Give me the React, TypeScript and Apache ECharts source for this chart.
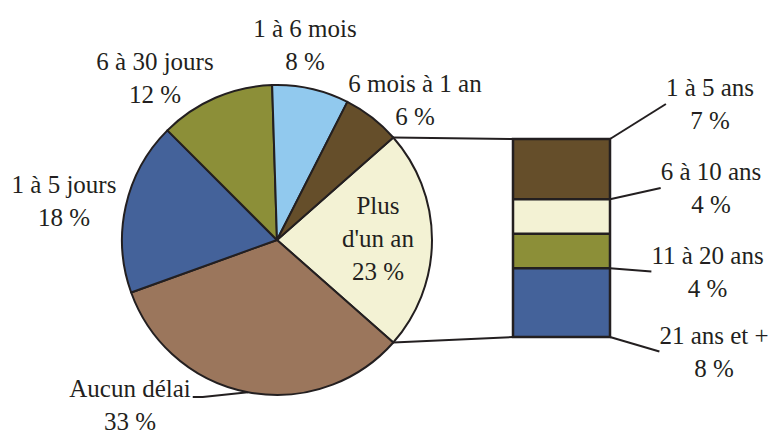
import React, { useEffect, useRef } from 'react';
import * as echarts from 'echarts';

// Main pie (clockwise from the "Plus d'un an" slice)
const pieNames = ["Plus d'un an", 'Aucun délai', '1 à 5 jours', '6 à 30 jours', '1 à 6 mois', '6 mois à 1 an'];
const pieValues = [23, 33, 18, 12, 8, 6];
const pieColors = ['#F3F2D4', '#9B765C', '#44629A', '#8C8F38', '#91C9EE', '#654E2A'];

// Breakdown of "Plus d'un an" (bottom to top)
const barNames = ['21 ans et +', '11 à 20 ans', '6 à 10 ans', '1 à 5 ans'];
const barValues = [8, 4, 4, 7];
const barColors = ['#44629A', '#8C8F38', '#F3F2D4', '#654E2A'];

// Layout (label anchors, centre of each label block)
const pieLabelPos: number[][] = [[378, 238], [130, 405], [64, 201], [155, 77.5], [305, 45], [415, 100]];
const barLabelPos: number[][] = [[714, 351.5], [707.5, 271.5], [711, 188], [710, 104]];

const INK = '#231F20';
const FONT = 'Liberation Serif';
const PIE_CX = 277;
const PIE_CY = 240;
const PIE_R = 155;
const BOX = { left: 513, top: 139, width: 97, height: 198 };

const txt = { fontFamily: FONT, fontSize: 25, lineHeight: 33, color: INK };

const lines = (arr: string[]) => arr.map((s) => `{t|${s}}`).join('\n');

export default function App() {
  const ref = useRef<HTMLDivElement>(null);

  useEffect(() => {
    document.body.style.margin = '0';
    if (!ref.current) return;
    const chart = echarts.init(ref.current, null, { renderer: 'svg' });

    const pieTotal = pieValues.reduce((a, b) => a + b, 0);
    const half = (pieValues[0] / pieTotal) * 180; // degrees
    const hr = (half * Math.PI) / 180;
    const px = PIE_CX + PIE_R * Math.cos(hr);
    const pyTop = PIE_CY - PIE_R * Math.sin(hr);
    const pyBot = PIE_CY + PIE_R * Math.sin(hr);
    const barTotal = barValues.reduce((a, b) => a + b, 0);

    const pieData = pieNames.map((n, i) => ({
      name: n,
      value: pieValues[i],
      itemStyle: { color: pieColors[i] },
      label: {
        show: true,
        ...txt,
        align: 'center',
        formatter: lines(
          (n === "Plus d'un an" ? ['Plus', "d'un an"] : [n]).concat([`${pieValues[i]} %`])
        ),
        rich: { t: { ...txt } },
      },
      labelLine: { show: n === 'Aucun délai' },
    }));

    const barSeries = barNames.map((n, i) => ({
      type: 'bar',
      name: n,
      stack: 'total',
      barWidth: '100%',
      data: [
        {
          value: barValues[i],
          label: {
            show: true,
            position: 'right',
            ...txt,
            align: 'center',
            formatter: lines([n, `${barValues[i]} %`]),
            rich: { t: { ...txt } },
          },
        },
      ],
      itemStyle: { color: barColors[i], borderWidth: 0 },
      labelLine: { show: true, lineStyle: { color: INK, width: 2 } },
      labelLayout: (params: any) => {
        const [lx, ly] = barLabelPos[i];
        const w = params.labelRect.width;
        const r = params.rect;
        return {
          x: lx,
          y: ly,
          align: 'center',
          verticalAlign: 'middle',
          labelLinePoints: [
            [r.x + r.width, r.y + r.height / 2],
            [lx - w / 2 - 5, ly],
          ],
        };
      },
      emphasis: { disabled: true },
    }));

    // outline of the breakdown box and separators between its segments
    const boxGraphics: any[] = [
      {
        type: 'rect',
        shape: { x: BOX.left, y: BOX.top, width: BOX.width, height: BOX.height },
        style: { fill: 'none', stroke: INK, lineWidth: 2.5 },
        silent: true,
        z: 100,
      },
    ];
    let cum = 0;
    for (let i = 0; i < barValues.length - 1; i++) {
      cum += barValues[i];
      const y = BOX.top + BOX.height * (1 - cum / barTotal);
      boxGraphics.push({
        type: 'line',
        shape: { x1: BOX.left, y1: y, x2: BOX.left + BOX.width, y2: y },
        style: { stroke: INK, lineWidth: 2.5 },
        silent: true,
        z: 100,
      });
    }

    chart.setOption({
      animation: false,
      textStyle: { fontFamily: FONT },
      grid: { left: BOX.left, top: BOX.top, width: BOX.width, height: BOX.height },
      xAxis: { type: 'category', data: ["Plus d'un an"], show: false },
      yAxis: { type: 'value', min: 0, max: barTotal, show: false },
      series: [
        {
          type: 'pie',
          center: [PIE_CX, PIE_CY],
          radius: PIE_R,
          startAngle: half,
          clockwise: true,
          avoidLabelOverlap: false,
          data: pieData,
          itemStyle: { borderColor: INK, borderWidth: 2 },
          label: { show: true, position: 'outside', ...txt },
          labelLine: { show: true, lineStyle: { color: INK, width: 2 } },
          labelLayout: (params: any) => {
            const [lx, ly] = pieLabelPos[params.dataIndex];
            const out: any = { x: lx, y: ly, align: 'center', verticalAlign: 'middle' };
            if (pieNames[params.dataIndex] === 'Aucun délai' && params.labelLinePoints) {
              const right = lx + params.labelRect.width / 2;
              const lineY = ly - 8;
              out.labelLinePoints = [
                params.labelLinePoints[0],
                [right + 12, lineY],
                [right + 2, lineY],
              ];
            }
            return out;
          },
          emphasis: { disabled: true },
        },
        ...barSeries,
      ],
      graphic: [
        {
          type: 'line',
          shape: { x1: px, y1: pyTop, x2: BOX.left, y2: BOX.top },
          style: { stroke: INK, lineWidth: 2 },
          silent: true,
        },
        {
          type: 'line',
          shape: { x1: px, y1: pyBot, x2: BOX.left, y2: BOX.top + BOX.height },
          style: { stroke: INK, lineWidth: 2 },
          silent: true,
        },
        ...boxGraphics,
      ],
    });

    return () => chart.dispose();
  }, []);

  return <div ref={ref} style={{ width: 775, height: 436 }} />;
}
